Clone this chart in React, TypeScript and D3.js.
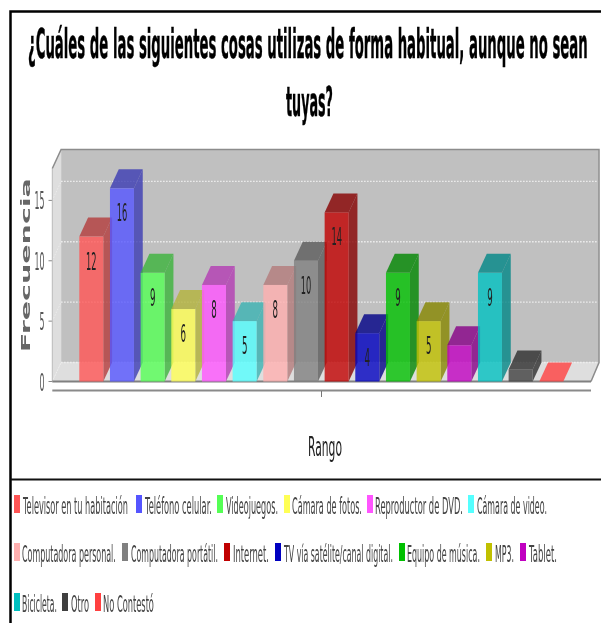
import React from "react";
import * as d3 from "d3";

const titleLines = ["¿Cuáles de las siguientes cosas utilizas de forma habitual, aunque no sean", "tuyas?"];
const categories = ["Televisor en tu habitación", "Teléfono celular.", "Videojuegos.", "Cámara de fotos.", "Reproductor de DVD.", "Cámara de video.", "Computadora personal.", "Computadora portátil.", "Internet.", "TV vía satélite/canal digital.", "Equipo de música.", "MP3.", "Tablet.", "Bicicleta.", "Otro", "No Contestó"];
const values = [12, 16, 9, 6, 8, 5, 8, 10, 14, 4, 9, 5, 3, 9, 1, 0];
const valueLabels = ["12", "16", "9", "6", "8", "5", "8", "10", "14", "4", "9", "5", "", "9", "", ""];
const colors = ["#ff5555", "#5555ff", "#55ff55", "#ffff55", "#ff55ff", "#55ffff", "#ffafaf", "#808080", "#c00000", "#0000c0", "#00c000", "#c0c000", "#c000c0", "#00c0c0", "#404040", "#ff4040"];
const yTicks = [0, 5, 10, 15];

// legend layout: [swatchX, textX, textWidth, rowCentre]
const legendLayout = [
  [14, 23, 105, 507], [136, 145, 67, 507], [217, 226, 52, 507], [284, 292, 70, 507], [367, 375, 88, 507], [468, 477, 70, 507],
  [14, 22, 94, 555], [122, 131, 87, 555], [224, 233, 36, 555], [275, 284, 109, 555], [399, 407, 73, 555], [486, 495, 19, 555], [520, 529, 28, 555],
  [14, 22, 35, 605], [62, 71, 18, 605], [95, 103, 51, 605],
];

const DX = 8.8, DY = 19;
const y = d3.scaleLinear().domain([0, 15]).range([381.5, 200.4]);
const x = d3.scaleBand<string>().domain(categories).range([79.3, 563.3]).paddingInner(0.2174).paddingOuter(0);
const left = 52.3, right = 591, yTop = 168.5, y0 = y(0);
const poly = (pts: number[][]) => pts.map((p) => p.join(",")).join(" ");

const ctx = document.createElement("canvas").getContext("2d")!;
const FAMILY = "'DejaVu Sans', sans-serif";

// text squeezed horizontally to a measured width, as in the stretched original
function Txt({ x, y, w, size, children, bold, fill, anchor, stroke }: any) {
  const weight = bold ? 700 : 400;
  ctx.font = `${weight} ${size}px ${FAMILY}`;
  const natural = ctx.measureText(String(children)).width;
  const sx = w / natural;
  return (
    <text transform={`translate(${x},${y}) scale(${sx},1)`} fontSize={size} fontWeight={weight}
      fill={fill ?? "#222"} textAnchor={anchor ?? "start"} fontFamily={FAMILY}
      stroke={stroke ? fill : undefined} strokeWidth={stroke}>{children}</text>
  );
}

export default function App() {
  return (
    <svg width={601} height={623} style={{ position: "absolute", left: 0, top: 0, background: "#fff" }}>
      <defs>
        <filter id="soft" x="-5%" y="-5%" width="110%" height="110%"><feGaussianBlur stdDeviation="0.55" /></filter>
      </defs>
      <g filter="url(#soft)">
        <polygon points={poly([[left + DX, yTop - DY], [right + DX - 1, yTop - DY], [right + DX - 1, y0 - DY], [left + DX, y0 - DY]])} fill="#c0c0c0" />
        <polygon points={poly([[left, yTop], [left + DX, yTop - DY], [left + DX, y0 - DY], [left, y0]])} fill="#dedede" />
        <polygon points={poly([[left, y0], [left + DX, y0 - DY], [right + 8, y0 - DY], [right, y0]])} fill="#dedede" />
        {yTicks.map((t) => (
          <g key={t}>
            <line x1={left + DX} x2={right + 7.5} y1={y(t) - DY} y2={y(t) - DY} stroke="#efefef" strokeWidth={1.4} strokeDasharray="1.5 1.5" />
            <line x1={left} x2={left + DX} y1={y(t)} y2={y(t) - DY} stroke="#efefef" strokeWidth={0.8} strokeDasharray="1.5 1.5" />
            <line x1={48.5} x2={left} y1={y(t)} y2={y(t)} stroke="#888" />
            <Txt x={44.5} y={y(t) + 9} w={t < 10 ? 5 : 10} size={24} anchor="end" fill="#555">{t}</Txt>
          </g>
        ))}
        <line x1={left} x2={left} y1={yTop} y2={y0} stroke="#bbb" />
        <polyline points={poly([[left, yTop], [left + DX, yTop - DY], [right + 8, yTop - DY], [right + 8, y0 - DY], [right, y0]])} fill="none" stroke="#8c8c8c" strokeWidth={1.5} />
        <line x1={left} x2={right} y1={y0} y2={y0} stroke="#808080" strokeWidth={1.8} />

        {categories.map((c, i) => {
          const v = values[i], bx = x(c)!, w = x.bandwidth(), top = y(v);
          const base = d3.rgb(colors[i]);
          const side = d3.rgb(base.r * 0.7, base.g * 0.7, base.b * 0.7).formatHex();
          return (
            <g key={c} fillOpacity={0.8}>
              {v > 0 && <polygon points={poly([[bx + w, top], [bx + w + DX, top - DY], [bx + w + DX, y0 - DY], [bx + w, y0]])} fill={side} />}
              <polygon points={poly([[bx, top], [bx + DX, top - DY], [bx + w + DX, top - DY], [bx + w, top]])} fill={v > 0 ? side : colors[i]} />
              {v > 0 && <rect x={bx} y={top} width={w} height={y0 - top} fill={colors[i]} />}
            </g>
          );
        })}
        {categories.map((c, i) => valueLabels[i] ? (
          <Txt key={c} x={x(c)! + x.bandwidth() / 2} y={y(values[i]) + 33} w={valueLabels[i].length > 1 ? 10.5 : 5.5} size={25} anchor="middle" fill="#222">{valueLabels[i]}</Txt>
        ) : null)}

        <line x1={left} x2={right} y1={390.5} y2={390.5} stroke="#8a8a8a" strokeWidth={1.8} />
        <line x1={321.5} x2={321.5} y1={391} y2={397} stroke="#777" />

        <g transform="translate(30,352) rotate(-90)">
          <Txt x={0} y={0} w={174} size={12.5} bold fill="#666">Frecuencia</Txt>
        </g>
        <Txt x={325} y={456} w={34} size={26} anchor="middle" fill="#222">Rango</Txt>

        <Txt x={28} y={58} w={560} size={41} bold fill="#000" stroke={0.5}>{titleLines[0]}</Txt>
        <Txt x={286} y={116} w={47} size={41} bold fill="#000" stroke={0.5}>{titleLines[1]}</Txt>

        {categories.map((c, i) => {
          const [sx, tx, tw, ry] = legendLayout[i];
          return (
            <g key={c}>
              <rect x={sx} y={ry - 12} width={6} height={18} fill={colors[i]} />
              <Txt x={tx} y={ry + 7} w={tw} size={23} fill="#444">{c}</Txt>
            </g>
          );
        })}
      </g>
      <polyline points="601,11.5 10.5,11.5 10.5,623" fill="none" stroke="#000" strokeWidth={2.5} />
      <line x1={10.5} x2={601} y1={479.5} y2={479.5} stroke="#111" strokeWidth={2} />
    </svg>
  );
}
